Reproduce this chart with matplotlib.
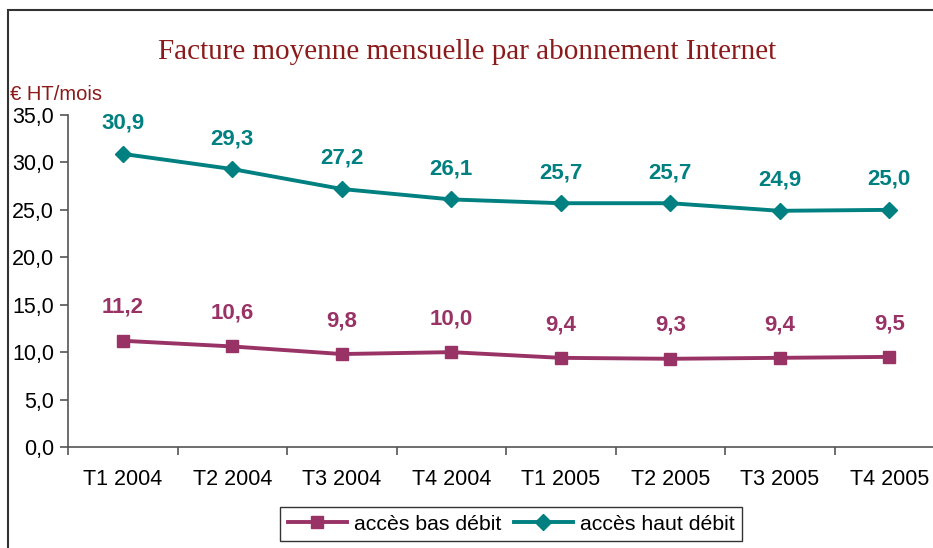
import matplotlib
matplotlib.use("Agg")
import matplotlib.pyplot as plt
from matplotlib.patches import Rectangle

categories = ["T1 2004", "T2 2004", "T3 2004", "T4 2004", "T1 2005", "T2 2005", "T3 2005", "T4 2005"]
bas_debit = [11.2, 10.6, 9.8, 10.0, 9.4, 9.3, 9.4, 9.5]
haut_debit = [30.9, 29.3, 27.2, 26.1, 25.7, 25.7, 24.9, 25.0]
yticks = [0, 5, 10, 15, 20, 25, 30, 35]

W, H = 933, 548
fig = plt.figure(figsize=(W / 100, H / 100), dpi=100)
plt.rcParams['font.family'] = ['Liberation Sans', 'DejaVu Sans']

# outer frame
fig.patches.append(Rectangle((8 / W, -0.1), 1.2, (H - 10) / H + 0.1, transform=fig.transFigure,
                             fill=False, edgecolor='#333333', linewidth=1.5))

ax_l, ax_r, ax_b, ax_t = 68, 944, 447, 115
ax = fig.add_axes([ax_l / W, 1 - ax_b / H, (ax_r - ax_l) / W, (ax_b - ax_t) / H])

x = list(range(len(categories)))
maroon = '#993366'
teal = '#008080'
ax.plot(x, bas_debit, color=maroon, lw=2.8, marker='s', ms=9, label='accès bas débit')
ax.plot(x, haut_debit, color=teal, lw=2.8, marker='D', ms=8, label='accès haut débit')

for xi, v in zip(x, bas_debit):
    ax.annotate(f"{v:.1f}".replace('.', ','), (xi, v), xytext=(0, 24), textcoords='offset points',
                ha='center', va='center', color=maroon, fontsize=16, fontweight='bold')
for xi, v in zip(x, haut_debit):
    ax.annotate(f"{v:.1f}".replace('.', ','), (xi, v), xytext=(0, 22), textcoords='offset points',
                ha='center', va='center', color=teal, fontsize=16, fontweight='bold')

ax.set_xlim(-0.5, len(categories) - 0.5)
ax.set_ylim(0, 35)
ax.set_yticks(yticks)
ax.set_yticklabels([f"{t:.1f}".replace('.', ',') for t in yticks], fontsize=15.5)
ax.set_xticks(x)
ax.set_xticklabels(categories, fontsize=15.5)
ax.set_xticks([i - 0.5 for i in range(len(categories) + 1)], minor=True)
ax.tick_params(axis='x', which='major', length=0, pad=16)
ax.tick_params(axis='x', which='minor', length=6, direction='out', width=1.2, color='#555555')
ax.tick_params(axis='y', length=6, direction='out', width=1.2, color='#555555', pad=4)
for s in ['top', 'right']:
    ax.spines[s].set_visible(False)
for s in ['left', 'bottom']:
    ax.spines[s].set_color('#555555')
    ax.spines[s].set_linewidth(1.2)

fig.text(467 / W, 1 - 52 / H, "Facture moyenne mensuelle par abonnement Internet",
         ha='center', va='center', fontsize=21, color='#8B1A1A', family=['Liberation Serif', 'DejaVu Serif'])
fig.text(10 / W, 1 - 95 / H, "€ HT/mois", ha='left', va='center', fontsize=14.5, color='#8B1A1A')

leg = fig.legend(loc='center', bbox_to_anchor=(511 / W, 1 - 524 / H), ncol=2, fontsize=15.3,
                 frameon=True, fancybox=False, edgecolor='black', handlelength=2.8,
                 columnspacing=0.6, handletextpad=0.3, borderpad=0.35)
leg.get_frame().set_linewidth(1.0)

fig.savefig("out.png", dpi=100)
